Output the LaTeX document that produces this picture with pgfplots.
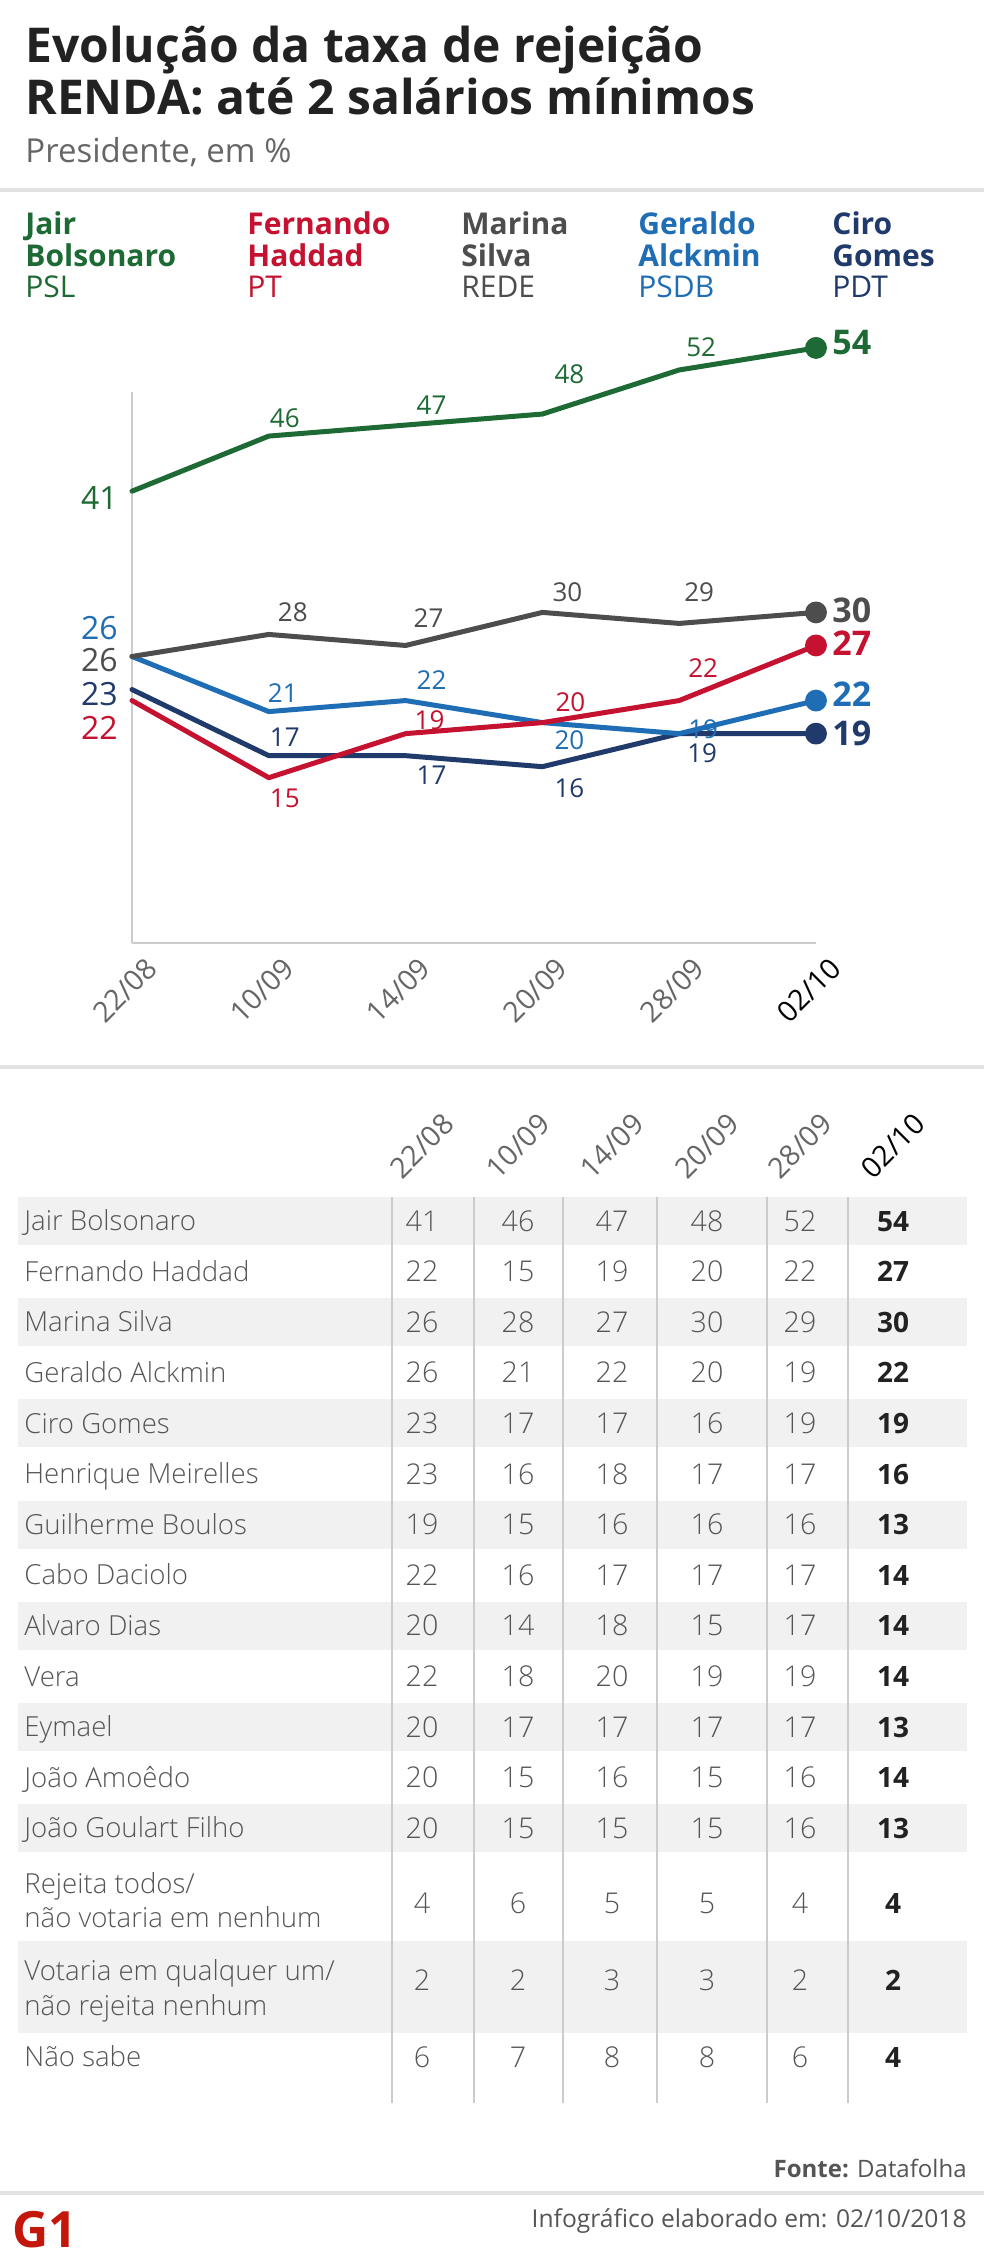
\documentclass[border=0pt]{standalone}
\usepackage{pgfplots}
\pgfplotsset{compat=1.18}
\usepackage{fontspec}
\setmainfont{Open Sans}
\IfFontExistsTF{Open Sans Light}{\newfontfamily\lightf{Open Sans Light}}{\newfontfamily\lightf{Open Sans}}
\definecolor{cgreen}{HTML}{1D6A34}
\definecolor{cred}{HTML}{C41230}
\definecolor{cgrey}{HTML}{4D4D4D}
\definecolor{cblue}{HTML}{1F6EB5}
\definecolor{cnavy}{HTML}{203A6B}
\definecolor{txt}{HTML}{222222}
\definecolor{sub}{HTML}{666666}
\definecolor{tbl}{HTML}{555555}
\definecolor{stripe}{HTML}{F1F1F1}
\definecolor{sep}{HTML}{E2E2E2}
\definecolor{axisc}{HTML}{CCCCCC}
\definecolor{gred}{HTML}{C4170C}
\newcommand\fs[1]{\fontsize{#1}{#1}\selectfont}
% table row: center y, name, six values
\newcommand\trow[8]{%
  \node[anchor=base west,inner sep=0,text=tbl,font=\lightf\fs{13.8}] at (24,{#1+9.7}) {#2};
  \node[anchor=base,inner sep=0,text=tbl,font=\lightf\fs{14.3}] at (422,{#1+10}) {#3};
  \node[anchor=base,inner sep=0,text=tbl,font=\lightf\fs{14.3}] at (518,{#1+10}) {#4};
  \node[anchor=base,inner sep=0,text=tbl,font=\lightf\fs{14.3}] at (612,{#1+10}) {#5};
  \node[anchor=base,inner sep=0,text=tbl,font=\lightf\fs{14.3}] at (707,{#1+10}) {#6};
  \node[anchor=base,inner sep=0,text=tbl,font=\lightf\fs{14.3}] at (800,{#1+10}) {#7};
  \node[anchor=base,inner sep=0,text=txt,font=\bfseries\fs{14}] at (893,{#1+10}) {#8};
}
\begin{document}
\begin{tikzpicture}[x=0.5pt,y=-0.5pt,
  lbl/.style={inner sep=0pt, font=\fs{13}},
  lblL/.style={inner sep=0pt, anchor=east, xshift=-7pt, font=\fs{16}},
  lblE/.style={inner sep=0pt, anchor=west, xshift=8pt, font=\bfseries\fs{17}}]
\useasboundingbox[fill=white] (0,0) rectangle (984,2268);
% ---- title
\node[anchor=base west,inner sep=0,text=txt,font=\bfseries\fs{24}] at (25,63) {Evolução da taxa de rejeição};
\node[anchor=base west,inner sep=0,text=txt,font=\bfseries\fs{24}] at (25,115) {RENDA: até 2 salários mínimos};
\node[anchor=base west,inner sep=0,text=sub,font=\fs{16.5}] at (25,163) {Presidente, em \%};
\fill[sep] (0,188) rectangle (984,192);
% ---- legend
\begin{scope}[every node/.style={anchor=base west,inner sep=0}]
\node[text=cgreen,font=\bfseries\fs{15}] at (25,235) {Jair};
\node[text=cgreen,font=\bfseries\fs{15}] at (25,267) {Bolsonaro};
\node[text=cgreen,font=\fs{15}] at (25,298) {PSL};
\node[text=cred,font=\bfseries\fs{15}] at (247,235) {Fernando};
\node[text=cred,font=\bfseries\fs{15}] at (247,267) {Haddad};
\node[text=cred,font=\fs{15}] at (247,298) {PT};
\node[text=cgrey,font=\bfseries\fs{15}] at (461,235) {Marina};
\node[text=cgrey,font=\bfseries\fs{15}] at (461,267) {Silva};
\node[text=cgrey,font=\fs{15}] at (461,298) {REDE};
\node[text=cblue,font=\bfseries\fs{15}] at (638,235) {Geraldo};
\node[text=cblue,font=\bfseries\fs{15}] at (638,267) {Alckmin};
\node[text=cblue,font=\fs{15}] at (638,298) {PSDB};
\node[text=cnavy,font=\bfseries\fs{15}] at (832,235) {Ciro};
\node[text=cnavy,font=\bfseries\fs{15}] at (832,267) {Gomes};
\node[text=cnavy,font=\fs{15}] at (832,298) {PDT};
\end{scope}
% ---- chart
\begin{axis}[
  at={(66pt,-471.5pt)}, anchor=south west,
  scale only axis, width=342pt, height=275.5pt,
  xmin=0, xmax=5, ymin=0, ymax=50,
  axis lines=left, axis line style={-, draw=axisc, line width=1pt},
  ytick=\empty, xtick={0,1,2,3,4,5},
  xticklabels={22/08,10/09,14/09,20/09,28/09,\textcolor{black}{02/10}},
  major tick length=0pt,
  xticklabel style={xshift=10pt, yshift=-10pt, rotate=45, anchor=east, inner sep=0pt, font=\fs{14.3}, text=sub},
  clip=false,
  every axis plot/.append style={line width=2.5pt, line join=round, line cap=round},
]
\addplot[cnavy] coordinates {(0,23)(1,17)(2,17)(3,16)(4,19)(5,19)};
\addplot[cblue] coordinates {(0,26)(1,21)(2,22)(3,20)(4,19)(5,22)};
\addplot[cred] coordinates {(0,22)(1,15)(2,19)(3,20)(4,22)(5,27)};
\addplot[cgrey] coordinates {(0,26)(1,28)(2,27)(3,30)(4,29)(5,30)};
\addplot[cgreen] coordinates {(0,41)(1,46)(2,47)(3,48)(4,52)(5,54)};
\addplot[cnavy, only marks, mark=*, mark size=4.2pt] coordinates {(5,19)};
\addplot[cblue, only marks, mark=*, mark size=4.2pt] coordinates {(5,22)};
\addplot[cred, only marks, mark=*, mark size=4.2pt] coordinates {(5,27)};
\addplot[cgrey, only marks, mark=*, mark size=4.2pt] coordinates {(5,30)};
\addplot[cgreen, only marks, mark=*, mark size=4.2pt] coordinates {(5,54)};
% left labels
\node[lblL, text=cgreen, yshift=-3.5pt] at (axis cs:0,41) {41};
\node[lblL, text=cblue, yshift=14pt] at (axis cs:0,26) {26};
\node[lblL, text=cgrey, yshift=-2pt] at (axis cs:0,26) {26};
\node[lblL, text=cnavy, yshift=-2.5pt] at (axis cs:0,23) {23};
\node[lblL, text=cred, yshift=-13.5pt] at (axis cs:0,22) {22};
% end labels
\node[lblE, text=cgreen, yshift=2.5pt] at (axis cs:5,54) {54};
\node[lblE, text=cgrey, yshift=1pt] at (axis cs:5,30) {30};
\node[lblE, text=cred, yshift=1pt] at (axis cs:5,27) {27};
\node[lblE, text=cblue, yshift=3pt] at (axis cs:5,22) {22};
\node[lblE, text=cnavy, yshift=0pt] at (axis cs:5,19) {19};
% middle labels
\node[lbl, text=cgreen, xshift=8pt, yshift=9pt] at (axis cs:1,46) {46};
\node[lbl, text=cgreen, xshift=13pt, yshift=10pt] at (axis cs:2,47) {47};
\node[lbl, text=cgreen, xshift=13.5pt, yshift=20pt] at (axis cs:3,48) {48};
\node[lbl, text=cgreen, xshift=11pt, yshift=11.5pt] at (axis cs:4,52) {52};
\node[lbl, text=cgrey, xshift=12pt, yshift=11pt] at (axis cs:1,28) {28};
\node[lbl, text=cgrey, xshift=11.5pt, yshift=13.5pt] at (axis cs:2,27) {27};
\node[lbl, text=cgrey, xshift=12.5pt, yshift=10pt] at (axis cs:3,30) {30};
\node[lbl, text=cgrey, xshift=10pt, yshift=15.5pt] at (axis cs:4,29) {29};
\node[lbl, text=cblue, xshift=7pt, yshift=9.5pt] at (axis cs:1,21) {21};
\node[lbl, text=cblue, xshift=13pt, yshift=10pt] at (axis cs:2,22) {22};
\node[lbl, text=cblue, xshift=13.5pt, yshift=-9pt] at (axis cs:3,20) {20};
\node[lbl, text=cblue, xshift=12pt, yshift=2pt] at (axis cs:4,19) {19};
\node[lbl, text=cred, xshift=8pt, yshift=-10.5pt] at (axis cs:1,15) {15};
\node[lbl, text=cred, xshift=12pt, yshift=6.5pt] at (axis cs:2,19) {19};
\node[lbl, text=cred, xshift=14pt, yshift=10pt] at (axis cs:3,20) {20};
\node[lbl, text=cred, xshift=12pt, yshift=16pt] at (axis cs:4,22) {22};
\node[lbl, text=cnavy, xshift=8pt, yshift=9pt] at (axis cs:1,17) {17};
\node[lbl, text=cnavy, xshift=13pt, yshift=-10pt] at (axis cs:2,17) {17};
\node[lbl, text=cnavy, xshift=13.5pt, yshift=-11pt] at (axis cs:3,16) {16};
\node[lbl, text=cnavy, xshift=11.5pt, yshift=-10pt] at (axis cs:4,19) {19};
\end{axis}
% ---- table
\fill[sep] (0,1065) rectangle (984,1069);
\foreach \r in {0,2,...,12} \fill[stripe] (18,{1197+50.6*\r}) rectangle (967,{1197+50.6*\r+48});
\fill[stripe] (18,1941) rectangle (967,2033);
\foreach \x in {392,474,563,657,767,848} \draw[axisc, line width=0.6pt] (\x,1197) -- (\x,2103);
\foreach \x/\d in {422/22\slash 08,518/10\slash 09,612/14\slash 09,707/20\slash 09,800/28\slash 09}
  \node[rotate=45,inner sep=0,text=sub,font=\fs{14.3}] at (\x,1146) {\d};
\node[rotate=45,inner sep=0,text=black,font=\fs{14.3}] at (893,1146) {02/10};
\trow{1221}{Jair Bolsonaro}{41}{46}{47}{48}{52}{54}
\trow{1271.6}{Fernando Haddad}{22}{15}{19}{20}{22}{27}
\trow{1322.2}{Marina Silva}{26}{28}{27}{30}{29}{30}
\trow{1372.8}{Geraldo Alckmin}{26}{21}{22}{20}{19}{22}
\trow{1423.4}{Ciro Gomes}{23}{17}{17}{16}{19}{19}
\trow{1474}{Henrique Meirelles}{23}{16}{18}{17}{17}{16}
\trow{1524.6}{Guilherme Boulos}{19}{15}{16}{16}{16}{13}
\trow{1575.2}{Cabo Daciolo}{22}{16}{17}{17}{17}{14}
\trow{1625.8}{Alvaro Dias}{20}{14}{18}{15}{17}{14}
\trow{1676.4}{Vera}{22}{18}{20}{19}{19}{14}
\trow{1727}{Eymael}{20}{17}{17}{17}{17}{13}
\trow{1777.6}{João Amoêdo}{20}{15}{16}{15}{16}{14}
\trow{1828.2}{João Goulart Filho}{20}{15}{15}{15}{16}{13}
\trow{1903}{}{4}{6}{5}{5}{4}{4}
\node[anchor=base west,inner sep=0,text=tbl,font=\lightf\fs{13.8}] at (24,1893) {Rejeita todos/};
\node[anchor=base west,inner sep=0,text=tbl,font=\lightf\fs{13.8}] at (24,1927) {não votaria em nenhum};
\trow{1980}{}{2}{2}{3}{3}{2}{2}
\node[anchor=base west,inner sep=0,text=tbl,font=\lightf\fs{13.8}] at (24,1980) {Votaria em qualquer um/};
\node[anchor=base west,inner sep=0,text=tbl,font=\lightf\fs{13.8}] at (24,2015) {não rejeita nenhum};
\trow{2057}{Não sabe}{6}{7}{8}{8}{6}{4}
% ---- footer
\node[anchor=base east,inner sep=0,text=tbl,font=\fs{12}] at (967,2177) {\textbf{Fonte:} Datafolha};
\fill[sep] (0,2191) rectangle (984,2195);
\node[anchor=base east,inner sep=0,text=tbl,font=\fs{12.3}] at (967,2227) {Infográfico elaborado em: 02/10/2018};
\node[anchor=base west,inner sep=0,text=gred,font=\bfseries\fs{25}] at (12,2247) {G1};
\end{tikzpicture}
\end{document}
